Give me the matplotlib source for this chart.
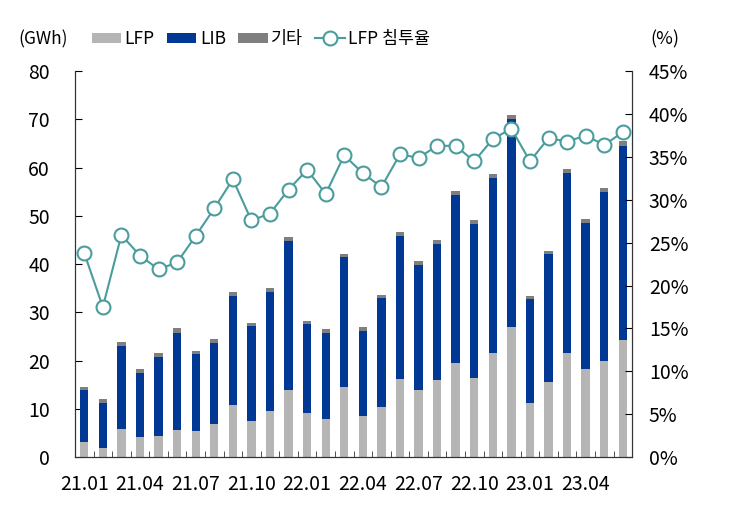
import matplotlib.pyplot as plt
import numpy as np
from matplotlib.ticker import FixedLocator

plt.rcParams['font.family'] = ['Noto Sans CJK KR', 'DejaVu Sans']

# monthly values 21.01 .. 23.06
months = ['21.01', '21.02', '21.03', '21.04', '21.05', '21.06', '21.07', '21.08', '21.09',
          '21.10', '21.11', '21.12', '22.01', '22.02', '22.03', '22.04', '22.05', '22.06',
          '22.07', '22.08', '22.09', '22.10', '22.11', '22.12', '23.01', '23.02', '23.03',
          '23.04', '23.05', '23.06']
lfp = [3.2, 1.9, 5.9, 4.1, 4.4, 5.7, 5.4, 6.8, 10.8, 7.5, 9.6, 14.0, 9.2, 7.9, 14.6,
       8.6, 10.3, 16.1, 13.9, 16.0, 19.6, 16.5, 21.5, 26.9, 11.3, 15.6, 21.5, 18.2, 19.9, 24.2]
lib_total = [13.9, 11.3, 23.1, 17.5, 20.8, 25.8, 21.3, 23.6, 33.4, 27.2, 34.3, 44.9, 27.5, 25.8, 41.4,
             26.2, 32.9, 45.9, 39.9, 44.2, 54.4, 48.4, 57.8, 70.1, 32.7, 42.1, 58.8, 48.5, 55.0, 64.5]
total = [14.6, 12.0, 23.9, 18.2, 21.5, 26.7, 22.0, 24.4, 34.2, 27.9, 35.0, 45.7, 28.3, 26.5, 42.2,
         27.0, 33.7, 46.6, 40.6, 45.0, 55.2, 49.1, 58.6, 71.0, 33.5, 42.8, 59.7, 49.3, 55.8, 65.5]
share = [23.8, 17.5, 25.9, 23.5, 21.9, 22.7, 25.8, 29.0, 32.4, 27.6, 28.4, 31.2, 33.5, 30.7, 35.2,
         33.1, 31.5, 35.3, 34.9, 36.3, 36.3, 34.5, 37.1, 38.3, 34.5, 37.2, 36.8, 37.5, 36.4, 37.9]

lib = [b - a for a, b in zip(lfp, lib_total)]
other = [c - b for b, c in zip(lib_total, total)]

C_LFP = '#b5b5b5'
C_LIB = '#003893'
C_OTH = '#7f7f7f'
C_LINE = '#4b9c9c'

fig = plt.figure(figsize=(7.35, 5.2), dpi=100)
ax = fig.add_axes([0.102, 0.121, 0.758, 0.742])
ax2 = ax.twinx()

x = np.arange(len(months))
w = 0.45
b1 = ax.bar(x, lfp, w, color=C_LFP, label='LFP', zorder=2)
b2 = ax.bar(x, lib, w, bottom=lfp, color=C_LIB, label='LIB', zorder=2)
b3 = ax.bar(x, other, w, bottom=lib_total, color=C_OTH, label='기타', zorder=2)
ln, = ax2.plot(x, share, color=C_LINE, lw=1.5, marker='o', ms=10, mfc='white',
               mec=C_LINE, mew=1.5, label='LFP 침투율')

ax.set_xlim(-0.5, len(months) - 0.5)
ax.set_ylim(0, 80)
ax2.set_ylim(0, 45)
ax.set_yticks(range(0, 81, 10))
ax2.set_yticks(range(0, 46, 5))
ax2.set_yticklabels([f'{v}%' for v in range(0, 46, 5)])

ax.set_xticks(x[::3])
ax.set_xticklabels(months[::3])
ax.xaxis.set_minor_locator(FixedLocator(np.arange(-0.5, len(months), 1)))
ax.tick_params(axis='x', which='major', length=0, labelsize=14, pad=12)
ax.tick_params(axis='x', which='minor', direction='in', length=4, color='#333333')
ax.tick_params(axis='y', direction='in', length=5, labelsize=14, pad=18)
ax2.tick_params(axis='y', direction='in', length=5, labelsize=14, pad=12)

for a in (ax, ax2):
    a.spines['top'].set_visible(False)
    for s in ('left', 'right', 'bottom'):
        a.spines[s].set_color('#333333')

fig.text(0.025, 0.925, '(GWh)', fontsize=12.5, va='center')
fig.text(0.885, 0.925, '(%)', fontsize=13, va='center')

fig.legend(handles=[b1, b2, b3, ln], loc='center', bbox_to_anchor=(0.355, 0.925), ncol=4,
           frameon=False, fontsize=12.5, handlelength=1.7, handleheight=0.5,
           columnspacing=0.7, handletextpad=0.2)

fig.savefig('out.png', dpi=100)
